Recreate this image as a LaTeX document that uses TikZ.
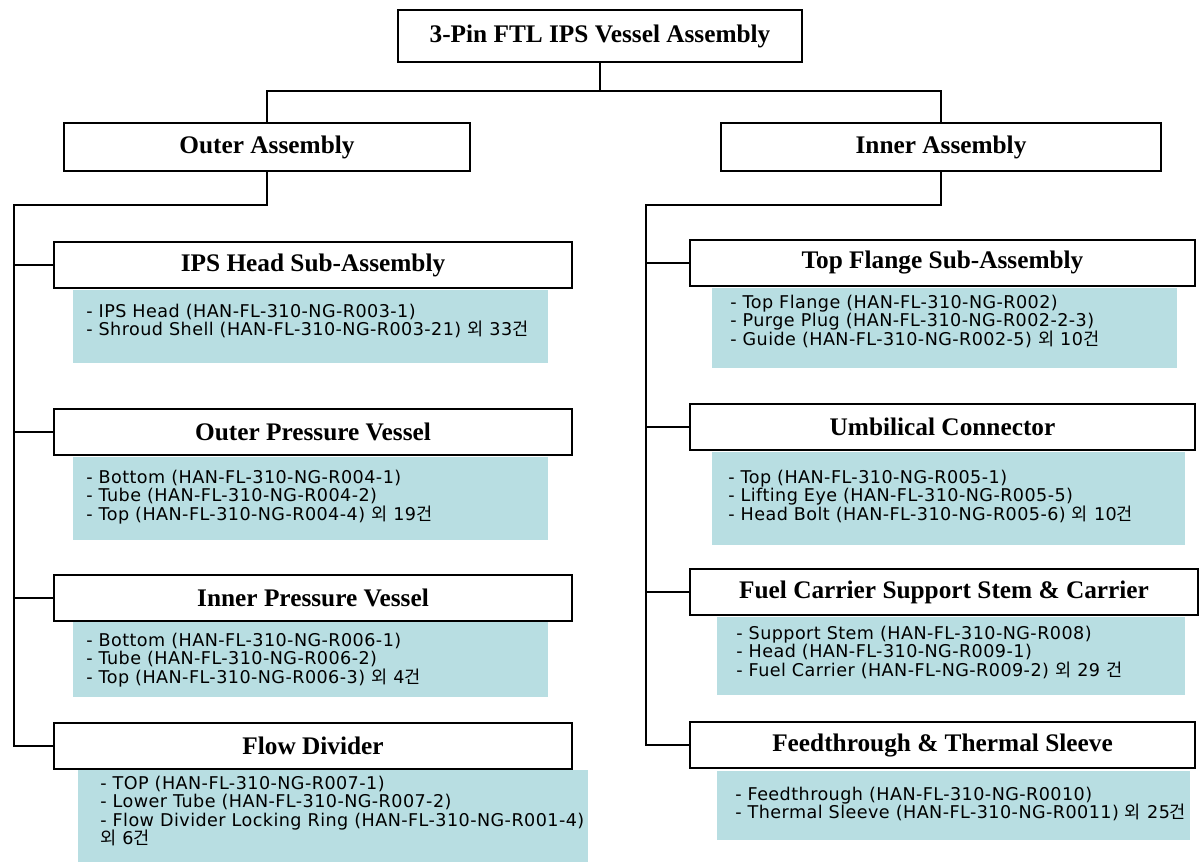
\documentclass[tikz,border=0pt]{standalone}
\usepackage{fontspec}
\setmainfont{Liberation Serif}
\newfontfamily\itemfont{DejaVu Sans}[LetterSpace=2.5]
\newfontfamily\krfont{Noto Sans CJK KR}
\newcommand\krtxt[1]{{\krfont #1}}
\usetikzlibrary{shadows}
\definecolor{tealbg}{RGB}{184,222,226}
\begin{document}
\begin{tikzpicture}[x=0.025cm,y=-0.025cm,
  hdr/.style={draw,line width=1.2pt,fill=white,inner sep=0pt,
    font=\fontsize{18}{20}\selectfont\bfseries,
    general shadow={shadow xshift=0.9pt,shadow yshift=-0.9pt,fill=black!75}},
  conn/.style={line width=1.3pt,black},
  items/.style={anchor=north west,inner sep=0pt,align=left,
    font=\itemfont\fontsize{12.5}{13}\selectfont}]
\useasboundingbox (0,0) rectangle (1201,862);

% headers
\node[hdr,minimum width=404*0.025cm,minimum height=52*0.025cm] (top) at (600,36) {3-Pin FTL IPS Vessel Assembly};
\node[hdr,minimum width=406*0.025cm,minimum height=48*0.025cm] (outer) at (267,147) {Outer Assembly};
\node[hdr,minimum width=440*0.025cm,minimum height=48*0.025cm] (inner) at (941,147) {Inner Assembly};

\node[hdr,minimum width=518*0.025cm,minimum height=46*0.025cm] (ips) at (313,265) {IPS Head Sub-Assembly};
\node[hdr,minimum width=518*0.025cm,minimum height=46*0.025cm] (opv) at (313,432) {Outer Pressure Vessel};
\node[hdr,minimum width=518*0.025cm,minimum height=46*0.025cm] (ipv) at (313,598) {Inner Pressure Vessel};
\node[hdr,minimum width=518*0.025cm,minimum height=46*0.025cm] (fd) at (313,746) {Flow Divider};

\node[hdr,minimum width=505*0.025cm,minimum height=46*0.025cm] (tf) at (942.5,263) {Top Flange Sub-Assembly};
\node[hdr,minimum width=505*0.025cm,minimum height=46*0.025cm] (uc) at (942.5,427) {Umbilical Connector};
\node[hdr,minimum width=508*0.025cm,minimum height=46*0.025cm] (fc) at (944,592) {Fuel Carrier Support Stem \& Carrier};
\node[hdr,minimum width=505*0.025cm,minimum height=46*0.025cm] (ft) at (942.5,745) {Feedthrough \& Thermal Sleeve};

% connectors
\coordinate (lt) at (14,205);
\coordinate (rt) at (646,205);
\draw[conn] (top.south) -- ++(0,28) coordinate (tj);
\draw[conn] (outer.north) |- (tj) -| (inner.north);
\draw[conn] (outer.south) |- (lt) -- (lt |- fd.west) -- (fd.west);
\draw[conn] (ips.west) -- (ips.west -| lt);
\draw[conn] (opv.west) -- (opv.west -| lt);
\draw[conn] (ipv.west) -- (ipv.west -| lt);
\draw[conn] (inner.south) |- (rt) -- (rt |- ft.west) -- (ft.west);
\draw[conn] (tf.west) -- (tf.west -| rt);
\draw[conn] (uc.west) -- (uc.west -| rt);
\draw[conn] (fc.west) -- (fc.west -| rt);

% teal boxes
\fill[tealbg] (73,290) rectangle (548,363);
\fill[tealbg] (73,457) rectangle (548,540);
\fill[tealbg] (73,622) rectangle (548,697);
\fill[tealbg] (78,770) rectangle (588,862);
\fill[tealbg] (712,288) rectangle (1177,368);
\fill[tealbg] (712,452) rectangle (1185,545);
\fill[tealbg] (717,617) rectangle (1185,695);
\fill[tealbg] (717,771) rectangle (1190,840);

\node[items] (ipsT) at (86,304) {- IPS Head (HAN-FL-310-NG-R003-1)\\- Shroud Shell (HAN-FL-310-NG-R003-21) \krtxt{외} 33\krtxt{건}};
\node[items] (opvT) at (86,470) {- Bottom (HAN-FL-310-NG-R004-1)\\- Tube (HAN-FL-310-NG-R004-2)\\- Top (HAN-FL-310-NG-R004-4) \krtxt{외} 19\krtxt{건}};
\node[items] (ipvT) at (86,633) {- Bottom (HAN-FL-310-NG-R006-1)\\- Tube (HAN-FL-310-NG-R006-2)\\- Top (HAN-FL-310-NG-R006-3) \krtxt{외} 4\krtxt{건}};
\node[items] (fdT) at (100,776) {- TOP (HAN-FL-310-NG-R007-1)\\- Lower Tube (HAN-FL-310-NG-R007-2)\\- Flow Divider Locking Ring (HAN-FL-310-NG-R001-4)\\\krtxt{외} 6\krtxt{건}};
\node[items] (tfT) at (730,295) {- Top Flange (HAN-FL-310-NG-R002)\\- Purge Plug (HAN-FL-310-NG-R002-2-3)\\- Guide (HAN-FL-310-NG-R002-5) \krtxt{외} 10\krtxt{건}};
\node[items] (ucT) at (728,470) {- Top (HAN-FL-310-NG-R005-1)\\- Lifting Eye (HAN-FL-310-NG-R005-5)\\- Head Bolt (HAN-FL-310-NG-R005-6) \krtxt{외} 10\krtxt{건}};
\node[items] (fcT) at (736,626) {- Support Stem (HAN-FL-310-NG-R008)\\- Head (HAN-FL-310-NG-R009-1)\\- Fuel Carrier (HAN-FL-NG-R009-2) \krtxt{외} 29 \krtxt{건}};
\node[items] (ftT) at (735,787) {- Feedthrough (HAN-FL-310-NG-R0010)\\- Thermal Sleeve (HAN-FL-310-NG-R0011) \krtxt{외} 25\krtxt{건}};
\end{tikzpicture}
\end{document}
